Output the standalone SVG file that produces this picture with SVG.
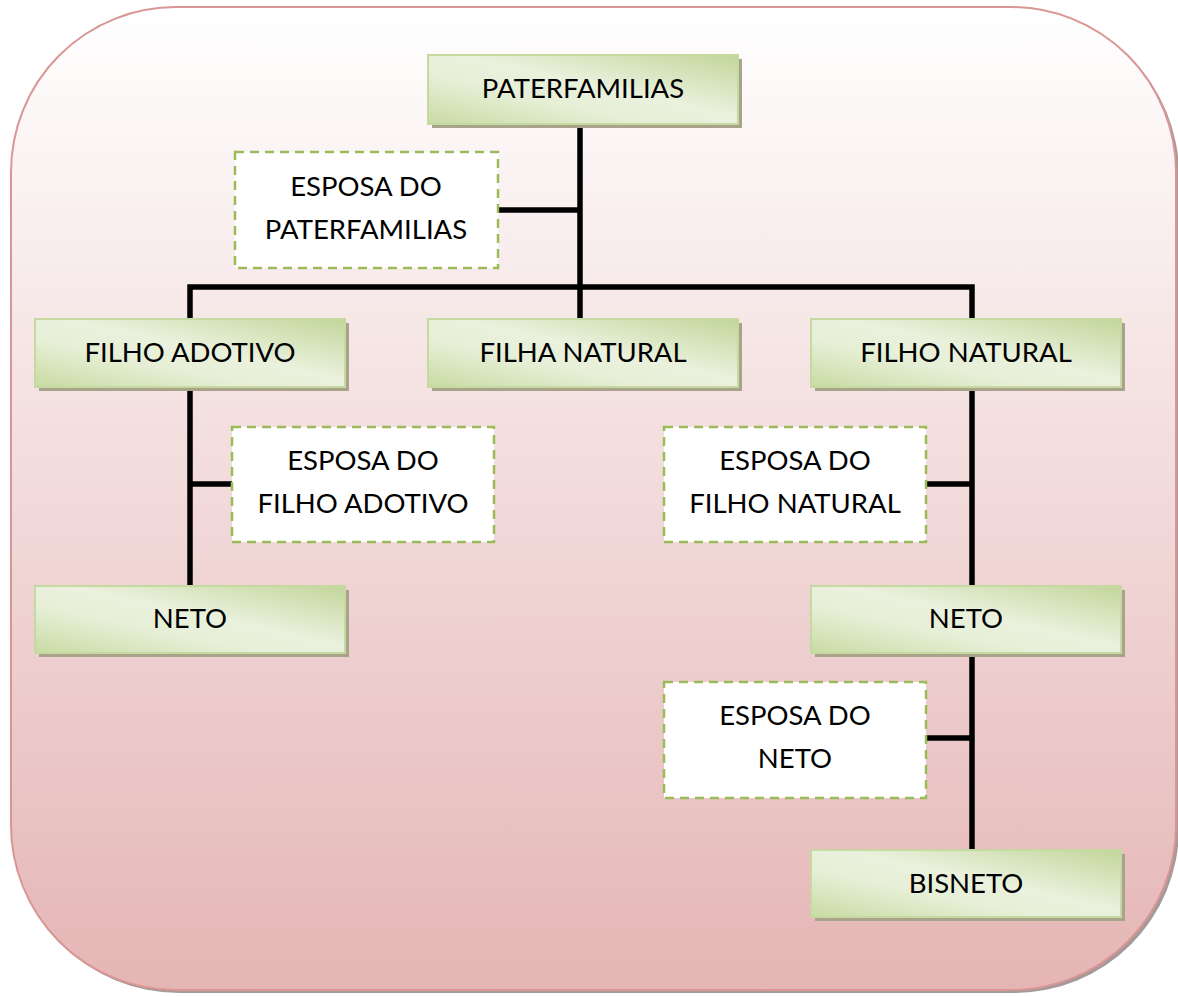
<svg xmlns="http://www.w3.org/2000/svg" width="1178" height="996" viewBox="0 0 1178 996">
<defs>
<linearGradient id="bg" x1="0" y1="0" x2="0" y2="1">
<stop offset="0" stop-color="#ffffff"/>
<stop offset="1" stop-color="#e5b5b5"/>
</linearGradient>
<linearGradient id="gr" x1="1" y1="0" x2="0" y2="1">
<stop offset="0" stop-color="#c2d69a"/>
<stop offset="0.45" stop-color="#eaf1dd"/>
<stop offset="0.65" stop-color="#e6efd6"/>
<stop offset="1" stop-color="#c8dba3"/>
</linearGradient>
<style>
.sh{fill:#a9a38c}
.gb{fill:url(#gr);stroke:#c6d9a0;stroke-width:2}
.db{fill:#ffffff;stroke:#9bbb59;stroke-width:2.5;stroke-dasharray:9 6}
.t{font-family:Lato,"Open Sans",sans-serif;font-size:27.5px;fill:#000;text-anchor:middle}
.c{stroke:#000;stroke-width:5.5;fill:none}
</style>
</defs>
<rect x="14" y="10" width="1165" height="983" rx="165" fill="#a59a9a"/>
<rect x="11" y="7" width="1165" height="983" rx="165" fill="url(#bg)" stroke="#d99694" stroke-width="2"/>
<g id="connectors">
<path class="c" d="M580 125V320M190 320V287H972V320M498 210H580M190 388V587M190 484H232M972 388V851M926 484H972M926 738H972"/>
</g>
<g id="paterfamilias"><rect class="sh" x="432" y="59" width="310" height="69"/><rect class="gb" x="428" y="55" width="310" height="69"/><text class="t" x="583" y="98">PATERFAMILIAS</text></g>
<g id="esposa-paterfamilias"><rect class="db" x="235" y="152" width="263" height="116"/><text class="t" x="366" y="196">ESPOSA DO</text><text class="t" x="366" y="239">PATERFAMILIAS</text></g>
<g id="filho-adotivo"><rect class="sh" x="39" y="323" width="310" height="68"/><rect class="gb" x="35" y="319" width="310" height="68"/><text class="t" x="190" y="362">FILHO ADOTIVO</text></g>
<g id="filha-natural"><rect class="sh" x="432" y="323" width="310" height="68"/><rect class="gb" x="428" y="319" width="310" height="68"/><text class="t" x="583" y="362">FILHA NATURAL</text></g>
<g id="filho-natural"><rect class="sh" x="815" y="323" width="310" height="68"/><rect class="gb" x="811" y="319" width="310" height="68"/><text class="t" x="966" y="362">FILHO NATURAL</text></g>
<g id="esposa-filho-adotivo"><rect class="db" x="232" y="427" width="262" height="115"/><text class="t" x="363" y="470">ESPOSA DO</text><text class="t" x="363" y="513">FILHO ADOTIVO</text></g>
<g id="esposa-filho-natural"><rect class="db" x="664" y="427" width="262" height="115"/><text class="t" x="795" y="470">ESPOSA DO</text><text class="t" x="795" y="513">FILHO NATURAL</text></g>
<g id="neto-esq"><rect class="sh" x="39" y="590" width="310" height="67"/><rect class="gb" x="35" y="586" width="310" height="67"/><text class="t" x="190" y="628">NETO</text></g>
<g id="neto-dir"><rect class="sh" x="815" y="590" width="310" height="67"/><rect class="gb" x="811" y="586" width="310" height="67"/><text class="t" x="966" y="628">NETO</text></g>
<g id="esposa-neto"><rect class="db" x="664" y="682" width="262" height="116"/><text class="t" x="795" y="725">ESPOSA DO</text><text class="t" x="795" y="768">NETO</text></g>
<g id="bisneto"><rect class="sh" x="815" y="854" width="310" height="67"/><rect class="gb" x="811" y="850" width="310" height="67"/><text class="t" x="966" y="893">BISNETO</text></g>
</svg>
